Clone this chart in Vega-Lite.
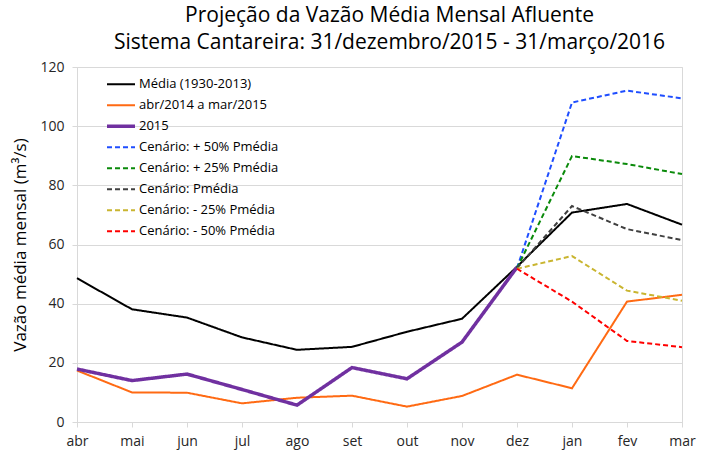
{
  "$schema": "https://vega.github.io/schema/vega-lite/v6.json",
  "width": 605,
  "height": 355,
  "autosize": {"type": "none"},
  "padding": {"left": 77, "top": 67, "right": 27, "bottom": 44},
  "background": "white",
  "title": {
    "text": ["Projeção da Vazão Média Mensal Afluente", "Sistema Cantareira: 31/dezembro/2015 - 31/março/2016"],
    "font": "Open Sans",
    "fontSize": 21,
    "fontWeight": "normal",
    "color": "#000000",
    "anchor": "middle",
    "lineHeight": 27,
    "offset": 7,
    "dx": 10
  },
  "config": {
    "view": {"stroke": "#d9d9d9", "strokeWidth": 1},
    "font": "Open Sans"
  },
  "data": {
    "values": [
      {"mes": "abr", "serie": "Média (1930-2013)", "v": 48.6},
      {"mes": "mai", "serie": "Média (1930-2013)", "v": 38.1},
      {"mes": "jun", "serie": "Média (1930-2013)", "v": 35.3},
      {"mes": "jul", "serie": "Média (1930-2013)", "v": 28.6},
      {"mes": "ago", "serie": "Média (1930-2013)", "v": 24.4},
      {"mes": "set", "serie": "Média (1930-2013)", "v": 25.4},
      {"mes": "out", "serie": "Média (1930-2013)", "v": 30.5},
      {"mes": "nov", "serie": "Média (1930-2013)", "v": 34.9},
      {"mes": "dez", "serie": "Média (1930-2013)", "v": 52.5},
      {"mes": "jan", "serie": "Média (1930-2013)", "v": 70.8},
      {"mes": "fev", "serie": "Média (1930-2013)", "v": 73.7},
      {"mes": "mar", "serie": "Média (1930-2013)", "v": 66.7},
      {"mes": "abr", "serie": "abr/2014 a mar/2015", "v": 17.4},
      {"mes": "mai", "serie": "abr/2014 a mar/2015", "v": 10.0},
      {"mes": "jun", "serie": "abr/2014 a mar/2015", "v": 9.9},
      {"mes": "jul", "serie": "abr/2014 a mar/2015", "v": 6.3},
      {"mes": "ago", "serie": "abr/2014 a mar/2015", "v": 8.2},
      {"mes": "set", "serie": "abr/2014 a mar/2015", "v": 8.9},
      {"mes": "out", "serie": "abr/2014 a mar/2015", "v": 5.2},
      {"mes": "nov", "serie": "abr/2014 a mar/2015", "v": 8.8},
      {"mes": "dez", "serie": "abr/2014 a mar/2015", "v": 16.0},
      {"mes": "jan", "serie": "abr/2014 a mar/2015", "v": 11.4},
      {"mes": "fev", "serie": "abr/2014 a mar/2015", "v": 40.7},
      {"mes": "mar", "serie": "abr/2014 a mar/2015", "v": 43.0},
      {"mes": "abr", "serie": "2015", "v": 17.9},
      {"mes": "mai", "serie": "2015", "v": 14.0},
      {"mes": "jun", "serie": "2015", "v": 16.2},
      {"mes": "jul", "serie": "2015", "v": 11.0},
      {"mes": "ago", "serie": "2015", "v": 5.7},
      {"mes": "set", "serie": "2015", "v": 18.4},
      {"mes": "out", "serie": "2015", "v": 14.6},
      {"mes": "nov", "serie": "2015", "v": 27.0},
      {"mes": "dez", "serie": "2015", "v": 52.3},
      {"mes": "dez", "serie": "Cenário: + 50% Pmédia", "v": 52.0},
      {"mes": "jan", "serie": "Cenário: + 50% Pmédia", "v": 108.0},
      {"mes": "fev", "serie": "Cenário: + 50% Pmédia", "v": 112.0},
      {"mes": "mar", "serie": "Cenário: + 50% Pmédia", "v": 109.4},
      {"mes": "dez", "serie": "Cenário: + 25% Pmédia", "v": 52.0},
      {"mes": "jan", "serie": "Cenário: + 25% Pmédia", "v": 89.9},
      {"mes": "fev", "serie": "Cenário: + 25% Pmédia", "v": 87.2},
      {"mes": "mar", "serie": "Cenário: + 25% Pmédia", "v": 83.8},
      {"mes": "dez", "serie": "Cenário: Pmédia", "v": 52.0},
      {"mes": "jan", "serie": "Cenário: Pmédia", "v": 73.0},
      {"mes": "fev", "serie": "Cenário: Pmédia", "v": 65.2},
      {"mes": "mar", "serie": "Cenário: Pmédia", "v": 61.5},
      {"mes": "dez", "serie": "Cenário: - 25% Pmédia", "v": 51.8},
      {"mes": "jan", "serie": "Cenário: - 25% Pmédia", "v": 56.1},
      {"mes": "fev", "serie": "Cenário: - 25% Pmédia", "v": 44.4},
      {"mes": "mar", "serie": "Cenário: - 25% Pmédia", "v": 41.0},
      {"mes": "dez", "serie": "Cenário: - 50% Pmédia", "v": 51.8},
      {"mes": "jan", "serie": "Cenário: - 50% Pmédia", "v": 40.7},
      {"mes": "fev", "serie": "Cenário: - 50% Pmédia", "v": 27.4},
      {"mes": "mar", "serie": "Cenário: - 50% Pmédia", "v": 25.3}
    ]
  },
  "mark": {"type": "line", "strokeCap": "butt", "strokeJoin": "miter"},
  "encoding": {
    "x": {
      "field": "mes",
      "type": "ordinal",
      "sort": ["abr", "mai", "jun", "jul", "ago", "set", "out", "nov", "dez", "jan", "fev", "mar"],
      "scale": {"type": "point", "padding": 0},
      "axis": {
        "title": null,
        "labelAngle": 0,
        "labelFontSize": 14,
        "labelColor": "#262626",
        "labelFont": "Open Sans",
        "domainColor": "#d9d9d9",
        "tickColor": "#d9d9d9",
        "tickSize": 5,
        "labelPadding": 7,
        "grid": false
      }
    },
    "y": {
      "field": "v",
      "type": "quantitative",
      "scale": {"domain": [0, 120], "nice": false},
      "axis": {
        "title": "Vazão média mensal (m³/s)",
        "titleFontSize": 17,
        "titleFontWeight": "normal",
        "titleColor": "#000000",
        "titleFont": "Open Sans",
        "titlePadding": 10,
        "values": [0, 20, 40, 60, 80, 100, 120],
        "labelFontSize": 14,
        "labelColor": "#262626",
        "labelFont": "Open Sans",
        "labelPadding": 8,
        "domainColor": "#d9d9d9",
        "tickColor": "#d9d9d9",
        "tickSize": 5,
        "gridColor": "#d9d9d9",
        "grid": true
      }
    },
    "color": {
      "field": "serie",
      "type": "nominal",
      "scale": {
        "domain": ["Média (1930-2013)", "abr/2014 a mar/2015", "2015", "Cenário: + 50% Pmédia", "Cenário: + 25% Pmédia", "Cenário: Pmédia", "Cenário: - 25% Pmédia", "Cenário: - 50% Pmédia"],
        "range": ["#000000", "#ff6a13", "#7030a0", "#1f4eff", "#0a8a0a", "#404040", "#c9b530", "#ff0000"]
      },
      "legend": {
        "title": null,
        "orient": "none",
        "legendX": 28,
        "legendY": 8,
        "symbolType": "stroke",
        "symbolSize": 784,
        "clipHeight": 18.4,
        "labelFontSize": 13,
        "labelFont": "Open Sans",
        "labelColor": "#000000",
        "labelOffset": 2,
        "rowPadding": 2,
        "labelLimit": 300
      }
    },
    "strokeDash": {
      "field": "serie",
      "type": "nominal",
      "scale": {
        "domain": ["Média (1930-2013)", "abr/2014 a mar/2015", "2015", "Cenário: + 50% Pmédia", "Cenário: + 25% Pmédia", "Cenário: Pmédia", "Cenário: - 25% Pmédia", "Cenário: - 50% Pmédia"],
        "range": [[1, 0], [1, 0], [1, 0], [5, 3], [5, 3], [5, 3], [5, 3], [5, 3]]
      },
      "legend": null
    },
    "strokeWidth": {
      "field": "serie",
      "type": "ordinal",
      "sort": ["Média (1930-2013)", "abr/2014 a mar/2015", "2015", "Cenário: + 50% Pmédia", "Cenário: + 25% Pmédia", "Cenário: Pmédia", "Cenário: - 25% Pmédia", "Cenário: - 50% Pmédia"],
      "scale": {
        "type": "ordinal",
        "domain": ["Média (1930-2013)", "abr/2014 a mar/2015", "2015", "Cenário: + 50% Pmédia", "Cenário: + 25% Pmédia", "Cenário: Pmédia", "Cenário: - 25% Pmédia", "Cenário: - 50% Pmédia"],
        "range": [2, 2, 3.5, 2, 2, 2, 2, 2]
      },
      "legend": null
    }
  }
}
